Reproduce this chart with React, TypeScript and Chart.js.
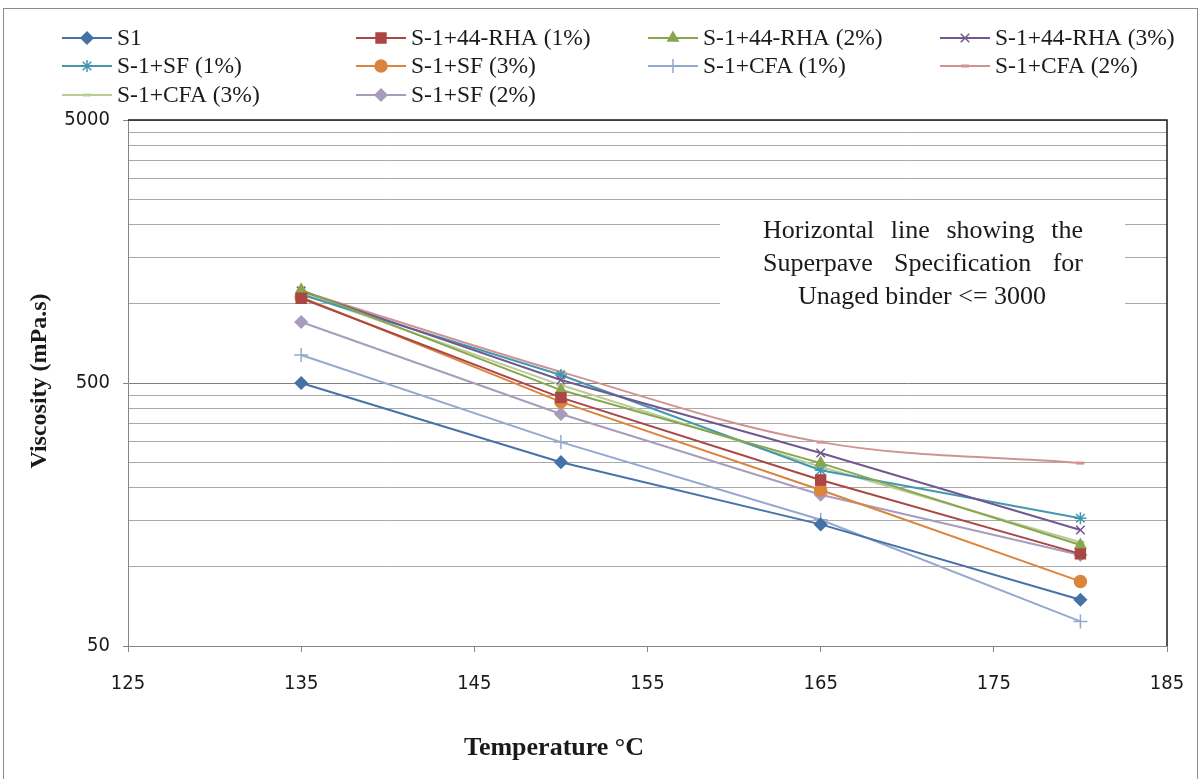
import React, { useEffect, useRef } from "react";
import { Chart, registerables } from "chart.js";
import { drawPoint } from "chart.js/helpers";

Chart.register(...registerables);

const temps = [135, 150, 165, 180];
const s1 = [500, 250, 145, 75];
const rha1 = [1050, 440, 214, 112];
const rha2 = [1130, 470, 248, 121];
const rha3 = [1120, 513, 271, 138];
const sf1 = [1085, 536, 233, 153];
const sf3 = [1060, 424, 196, 88];
const cfa1 = [639, 298, 151, 62];
const cfa2 = [1120, 551, 298, 248];
const cfa3 = [1100, 491, 240, 124];
const sf2 = [853, 381, 188, 111];

const seriesNames = [
  "S1",
  "S-1+44-RHA (1%)",
  "S-1+44-RHA (2%)",
  "S-1+44-RHA (3%)",
  "S-1+SF (1%)",
  "S-1+SF (3%)",
  "S-1+CFA (1%)",
  "S-1+CFA (2%)",
  "S-1+CFA (3%)",
  "S-1+SF (2%)",
];
const seriesValues = [s1, rha1, rha2, rha3, sf1, sf3, cfa1, cfa2, cfa3, sf2];
const seriesColors = [
  "#4572A7",
  "#AA4643",
  "#89A54E",
  "#71588F",
  "#4198AF",
  "#DB843D",
  "#93A9CF",
  "#D19392",
  "#B9CD96",
  "#A99BBD",
];
const seriesMarkers = [
  "rectRot",
  "rect",
  "triangle",
  "crossRot",
  "star",
  "circle",
  "cross",
  "line",
  "line",
  "rectRot",
];
const seriesRadius = [6, 7, 6, 6, 6, 6, 7, 4, 4, 6];
const seriesTension = [0, 0, 0, 0, 0, 0, 0, 0.35, 0, 0];

const xTickMin = 125;
const xTickMax = 185;
const xStep = 10;
const yGridValues = [
  50, 100, 150, 200, 250, 300, 350, 400, 450, 500, 1000, 1500, 2000, 2500,
  3000, 3500, 4000, 4500, 5000,
];
const yLabelValues = [50, 500, 5000];

const xTitle = "Temperature °C";
const yTitle = "Viscosity (mPa.s)";

const annotationLines = [
  "Horizontal line showing the",
  "Superpave Specification for",
  "Unaged binder <= 3000",
];

const legendCols = [62, 356, 648, 940];
const legendRows = [38, 66, 95];

const tickFont = "'Liberation Sans Narrow', 'DejaVu Sans Condensed', sans-serif";

const customPlugin = {
  id: "custom",
  beforeDatasetsDraw(chart: any) {
    const ctx = chart.ctx;
    ctx.save();
    // annotation box
    ctx.fillStyle = "#ffffff";
    ctx.fillRect(720, 212, 405, 100);
    ctx.fillStyle = "#1a1a1a";
    ctx.font = "26px 'Liberation Serif', serif";
    ctx.textBaseline = "middle";
    const ys = [231, 264, 297];
    annotationLines.forEach((line, i) => {
      if (i < 2) {
        const words = line.split(" ");
        const widths = words.map((w) => ctx.measureText(w).width);
        const sum = widths.reduce((a, b) => a + b, 0);
        const x0 = 763;
        const x1 = 1083;
        const gap = (x1 - x0 - sum) / (words.length - 1);
        let x = x0;
        ctx.textAlign = "left";
        words.forEach((w, j) => {
          ctx.fillText(w, x, ys[i]);
          x += widths[j] + gap;
        });
      } else {
        ctx.textAlign = "center";
        ctx.fillText(line, 922, ys[i]);
      }
    });
    ctx.restore();
  },
  afterDraw(chart: any) {
    const ctx = chart.ctx;
    const a = chart.chartArea;
    ctx.save();
    // plot area top/right border
    ctx.strokeStyle = "#1a1a1a";
    ctx.lineWidth = 1.5;
    ctx.beginPath();
    ctx.moveTo(a.left, a.top);
    ctx.lineTo(a.right, a.top);
    ctx.lineTo(a.right, a.bottom);
    ctx.stroke();
    // outer frame
    ctx.strokeStyle = "#8c8c8c";
    ctx.lineWidth = 1;
    ctx.strokeRect(3.5, 8.5, 1194, 800);
    // axis titles
    ctx.fillStyle = "#1a1a1a";
    ctx.font = "bold 26px 'Liberation Serif', serif";
    ctx.textAlign = "center";
    ctx.textBaseline = "middle";
    ctx.fillText(xTitle, 554, 748);
    ctx.save();
    ctx.translate(40, 381);
    ctx.rotate(-Math.PI / 2);
    ctx.font = "bold 24px 'Liberation Serif', serif";
    ctx.fillText(yTitle, 0, 0);
    ctx.restore();
    // legend
    ctx.font = "23.5px 'Liberation Serif', serif";
    ctx.textBaseline = "middle";
    ctx.textAlign = "left";
    seriesNames.forEach((name, i) => {
      const col = i % 4;
      const row = Math.floor(i / 4);
      const x = legendCols[col];
      const y = legendRows[row];
      const color = seriesColors[i];
      ctx.strokeStyle = color;
      ctx.lineWidth = 2;
      ctx.beginPath();
      ctx.moveTo(x, y);
      ctx.lineTo(x + 50, y);
      ctx.stroke();
      ctx.fillStyle = color;
      ctx.strokeStyle = color;
      ctx.lineWidth = seriesMarkers[i] === "line" ? 3 : 1.5;
      drawPoint(
        ctx,
        {
          pointStyle: seriesMarkers[i],
          radius: seriesRadius[i],
          rotation: 0,
          borderWidth: seriesMarkers[i] === "line" ? 3 : 1.5,
        } as any,
        x + 25,
        y
      );
      ctx.fillStyle = "#1a1a1a";
      ctx.fillText(name, x + 55, y + 1);
    });
    ctx.restore();
  },
};

export default function App() {
  const ref = useRef<HTMLCanvasElement | null>(null);
  useEffect(() => {
    if (!ref.current) return;
    const datasets = seriesNames.map((name, i) => ({
      label: name,
      data: temps.map((t, j) => ({ x: t, y: seriesValues[i][j] })),
      borderColor: seriesColors[i],
      backgroundColor: seriesColors[i],
      pointBackgroundColor: seriesColors[i],
      pointBorderColor: seriesColors[i],
      pointStyle: seriesMarkers[i],
      pointRadius: seriesRadius[i],
      pointBorderWidth: seriesMarkers[i] === "line" ? 3 : 1.5,
      borderWidth: 2,
      tension: seriesTension[i],
      fill: false,
    }));
    const chart = new Chart(ref.current, {
      type: "line",
      data: { datasets },
      plugins: [customPlugin],
      options: {
        animation: false,
        responsive: false,
        devicePixelRatio: 1,
        layout: { padding: { top: 120, right: 34, left: 0, bottom: 0 } },
        plugins: {
          legend: { display: false },
          tooltip: { enabled: false },
        },
        scales: {
          x: {
            type: "linear",
            min: xTickMin,
            max: xTickMax,
            ticks: {
              stepSize: xStep,
              color: "#1a1a1a",
              padding: 20,
              font: { family: tickFont, size: 20 },
            },
            grid: {
              drawOnChartArea: false,
              drawTicks: true,
              tickLength: 6,
              tickColor: "#868686",
              color: "#868686",
            },
            border: { color: "#868686", width: 1 },
            title: { display: false },
            afterFit(scale: any) {
              scale.height = 133;
              scale.paddingLeft = 0;
              scale.paddingRight = 0;
            },
          },
          y: {
            type: "logarithmic",
            min: 50,
            max: 5000,
            afterBuildTicks(scale: any) {
              scale.ticks = yGridValues.map((v) => ({
                value: v,
                major: yLabelValues.includes(v),
              }));
            },
            ticks: {
              autoSkip: false,
              color: "#1a1a1a",
              padding: 13,
              font: { family: tickFont, size: 20 },
              callback: (v: any) => (yLabelValues.includes(Number(v)) ? String(v) : ""),
            },
            grid: {
              color: (c: any) => (c.tick && c.tick.value === 500 ? "#7f7f7f" : "#a8a8a8"),
              tickColor: (c: any) =>
                c.tick && yLabelValues.includes(c.tick.value) ? "#868686" : "rgba(0,0,0,0)",
              tickLength: 5,
              lineWidth: 1,
            },
            border: { color: "#868686", width: 1 },
            title: { display: false },
            afterFit(scale: any) {
              scale.width = 128;
              scale.paddingTop = 0;
              scale.paddingBottom = 0;
            },
          },
        },
      } as any,
    });
    return () => chart.destroy();
  }, []);
  return (
    <div style={{ position: "fixed", left: 0, top: 0, width: 1201, height: 779, background: "#fff" }}>
      <canvas ref={ref} width={1201} height={779} style={{ width: 1201, height: 779, display: "block" }} />
    </div>
  );
}
